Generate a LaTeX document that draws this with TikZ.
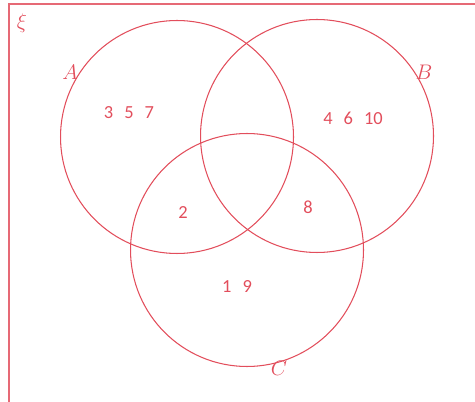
\documentclass[tikz,border=0pt]{standalone}
\usepackage{amsmath,amssymb}
\usepackage{fontspec}
\usepackage{xcolor}
\usepackage{tikz}
\newfontfamily\numfont{Carlito}
\definecolor{vred}{RGB}{226,78,92}
\usetikzlibrary{positioning}

\begin{document}
\begin{tikzpicture}[x=0.02cm, y=-0.02cm, every node/.style={text=vred}, set/.style={circle,draw=vred,line width=0.6pt,minimum size=4.66cm,inner sep=0pt}, num/.style={font=\numfont\fontsize{10.5}{12}\selectfont}, lab/.style={font=\fontsize{12}{14}\selectfont}]
\useasboundingbox (0,0) rectangle (475,401);
\draw[vred!85,line width=0.6pt] (9,4) rectangle (500,430);
\node[lab] (xi) at (22,23) {$\xi$};
% the three sets
\node[set] (A) at (177,137) {};
\node[set] (B) at (317,136) {};
\node[set] (C) at (247,250) {};
\node[lab] (la) at (70,72) {$A$};
\node[lab] (lb) at (424,72) {$B$};
\node[lab] (lc) at (279,368) {$C$};
% members
\node[num] (onlyA) at (129,113) {3\hspace{2.2mm}5\hspace{2.2mm}7};
\node[num] (onlyB) at (353,118) {4\hspace{2.2mm}6\hspace{2.2mm}10};
\node[num] (AC) at (183,213) {2};
\node[num] (BC) at (308,207) {8};
\node[num] (onlyC) at (237,287) {1\hspace{2.2mm}9};
\end{tikzpicture}
\end{document}
